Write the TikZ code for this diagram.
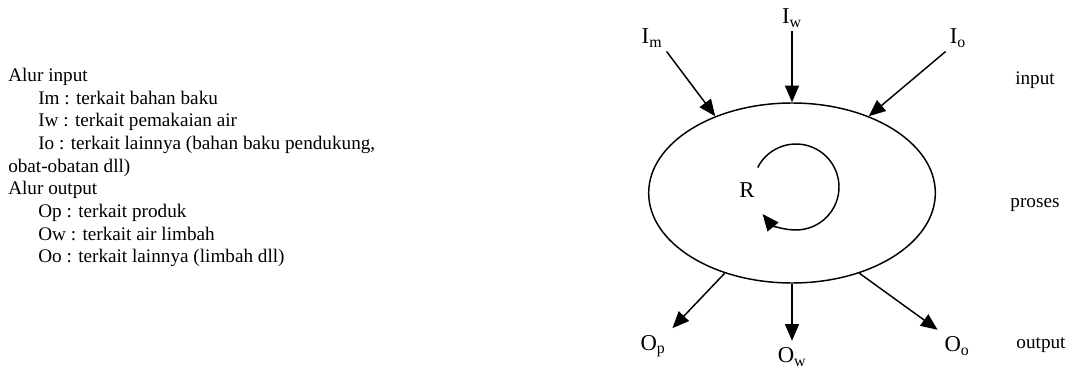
\documentclass[tikz,border=0pt]{standalone}
\usepackage{fontspec}
\setmainfont{Liberation Serif}
\usepackage{tikz}
\usetikzlibrary{shapes,arrows.meta,calc,positioning}

\begin{document}
\begin{tikzpicture}[x=0.75pt, y=0.75pt,
    flow/.style={line width=1.1pt, -{Triangle[length=12.5pt,width=10.5pt]}},
    lbl/.style={font=\fontsize{17}{19}\selectfont, inner sep=3pt},
    olbl/.style={lbl, inner sep=5pt},
    side/.style={font=\fontsize{14.4}{17}\selectfont, inner sep=0pt}]
            \useasboundingbox (0,0) rectangle (1077,-381);
            % Legend on the left
            \node[side, anchor=north west, align=left] (legend) at (8,-68)
            {Alur input\\
            \hspace*{22.5pt}Im : terkait bahan baku\\
            \hspace*{22.5pt}Iw : terkait pemakaian air\\
            \hspace*{22.5pt}Io : terkait lainnya (bahan baku pendukung,\\
            obat-obatan dll)\\
            Alur output\\
            \hspace*{22.5pt}Op : terkait produk\\
            \hspace*{22.5pt}Ow : terkait air limbah\\
            \hspace*{22.5pt}Oo : terkait lainnya (limbah dll)};
            % Process
            \node[draw, ellipse, line width=1.1pt, minimum width=215pt,
                  minimum height=135pt] (proc) at (792,-193) {};
            \coordinate (C) at (796,-187);
            \node[lbl] (R) at (747,-190) {R};
            \draw[flow] ($(C)+(153:43)$) arc[start angle=153, end angle=-141, radius=43];
            % Input labels and arrows
            \node[lbl] (im) at (652,-38) {I\textsubscript{m}};
            \node[lbl] (iw) at (792,-18) {I\textsubscript{w}};
            \node[lbl] (io) at (958,-38) {I\textsubscript{o}};
            \draw[flow] (im.south east) -- (proc.135);
            \draw[flow] (iw.south) -- (proc.north);
            \draw[flow] (io.south west) -- (proc.45);
            % Output labels and arrows
            \node[olbl] (op) at (653,-346) {O\textsubscript{p}};
            \node[olbl] (ow) at (792,-357) {O\textsubscript{w}};
            \node[olbl] (oo) at (957,-346) {O\textsubscript{o}};
            \draw[flow] (proc.230) -- (op.north east);
            \draw[flow] (proc.south) -- (ow.north);
            \draw[flow] (proc.-50) -- (oo.north west);
            % Stage names
            \node[side] (input) at (1035,-80) {input};
            \node[side] (proses) at (1035,-205) {proses};
            \node[side] (output) at (1041,-345) {output};
          \end{tikzpicture}
\end{document}
